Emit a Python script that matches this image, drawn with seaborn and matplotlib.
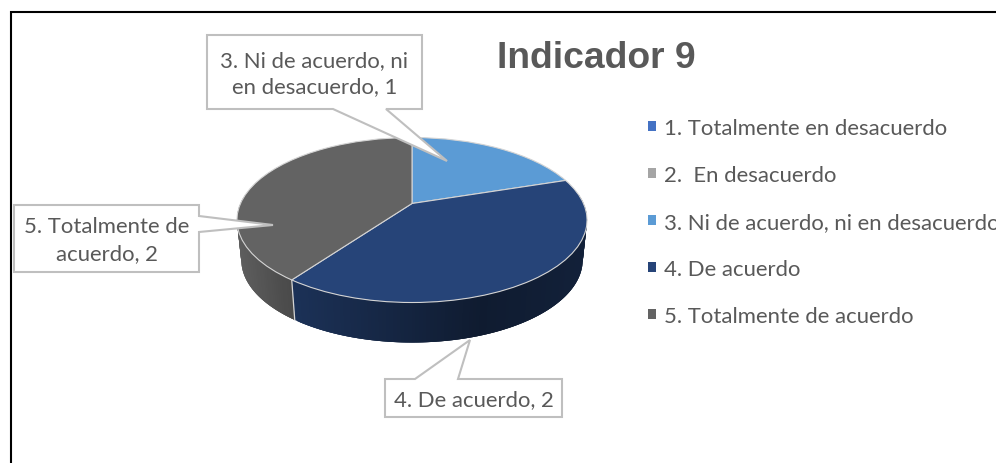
import textwrap
import numpy as np
import matplotlib
matplotlib.use("Agg")
import matplotlib.pyplot as plt
from matplotlib.patches import Patch, Polygon
from matplotlib.transforms import Transform
import seaborn as sns

categories = ["1. Totalmente en desacuerdo", "2.  En desacuerdo", "3. Ni de acuerdo, ni en desacuerdo",
              "4. De acuerdo", "5. Totalmente de acuerdo"]
values = [0, 0, 1, 2, 2]
slice_colors = ["#4472C4", "#A5A5A5", "#5B9BD5", "#264478", "#636363"]
chart_title = "Indicador 9"

# pie geometry in pixels, perspective keeps the apex above the ellipse centre
CX, APEX_Y = 412, 204.5
A, B, K = 171.5, 79.2, 0.2
DEPTH = 40
TEXT_COL = "#595959"
LINE_COL = "#BFBFBF"
FONT = 15.9

# callout box (x0, y0, x1, y1) and tail (start on box, tip, end on box)
callouts = {
    2: ((207, 36, 422, 110), [(386, 110), (447, 162), (333, 110)]),
    3: ((385, 380, 562, 418), [(415, 380), (470, 341), (458, 380)]),
    4: ((14, 206, 199, 273), [(199, 217), (273, 226), (199, 233)]),
}


class PieTilt(Transform):
    input_dims = 2
    output_dims = 2
    is_affine = False
    has_inverse = False

    def transform_non_affine(self, xy):
        xy = np.asarray(xy, dtype=float)
        d = 1 + K * xy[:, 1]
        return np.column_stack([CX + A * xy[:, 0] / d, APEX_Y - B * xy[:, 1] / d])


def side_shade(x):
    return np.interp(x, [237, 295, 480, 587], [0.95, 0.72, 0.40, 0.48])


sns.set_theme(style="white")
plt.rcParams["font.family"] = ["Lato", "DejaVu Sans"]
palette = sns.color_palette(slice_colors)

fig = plt.figure(figsize=(9.96, 4.64), dpi=100)
ax = fig.add_axes([0, 0, 1, 1])
wedges, _ = ax.pie(values, colors=palette, startangle=90, counterclock=False,
                   wedgeprops={"edgecolor": "#D4D4D4", "linewidth": 0.8, "zorder": 2})
ax.set_aspect("auto")
ax.set_xlim(0, 996)
ax.set_ylim(464, 0)
ax.axis("off")

tilt = PieTilt()
for w in wedges:
    w.set_transform(tilt + ax.transData)

# side wall of the disc, strips overlap the next one so no seams show
order = 0
for w, col, val in zip(wedges, palette, values):
    if val == 0:
        continue
    th = np.radians(np.arange(w.theta1, w.theta2, 1.0))
    th = np.append(th, np.radians(w.theta2))
    top = tilt.transform(np.column_stack([np.cos(th), np.sin(th)]))
    for i in range(len(th) - 1):
        if np.sin(th[i]) > 0.1 and np.sin(th[i + 1]) > 0.1:
            continue
        seg = top[i:i + 4]
        xs = list(seg[:, 0]) + list(CX + (seg[::-1, 0] - CX) * 0.975)
        ys = list(seg[:, 1]) + list(seg[::-1, 1] + DEPTH)
        c = np.array(col) * side_shade(top[i, 0])
        order += 1
        ax.fill(xs, ys, color=c, lw=0, zorder=1 + order * 1e-4)
    # light seam where two slices meet on the front of the wall
    if -0.99 < np.sin(th[0]) < -0.2:
        p0 = top[0]
        ax.plot([p0[0], CX + (p0[0] - CX) * 0.975], [p0[1], p0[1] + DEPTH],
                color="#D4D4D4", lw=0.9, zorder=1.5)

# frame of the pasted picture (left and top only)
ax.plot([11, 11, 996], [464, 13, 13], color="black", lw=1.5, solid_joinstyle="miter", zorder=5)

ax.text(596.5, 58.5, chart_title, family=["Liberation Sans"], weight="bold", fontsize=26.8,
        color=TEXT_COL, ha="center", va="center")

for idx, (box, tail) in callouts.items():
    x0, y0, x1, y1 = box
    if tail[0][1] == y1:
        pts = [(x0, y0), (x1, y0), (x1, y1)] + tail + [(x0, y1)]
    elif tail[0][1] == y0:
        pts = [(x0, y0)] + tail + [(x1, y0), (x1, y1), (x0, y1)]
    else:
        pts = [(x0, y0), (x1, y0)] + tail + [(x1, y1), (x0, y1)]
    ax.add_patch(Polygon(pts, closed=True, facecolor="white", edgecolor=LINE_COL, lw=1.5, zorder=3))
    txt = textwrap.fill(f"{categories[idx]}, {values[idx]}", width=20)
    ax.text((x0 + x1) / 2, (y0 + y1) / 2 + 1, txt, ha="center", va="center", fontsize=FONT,
            color=TEXT_COL, linespacing=1.4, zorder=4)

handles = [Patch(facecolor=c, edgecolor="none") for c in palette]
ax.legend(handles, categories, loc="upper left", bbox_to_anchor=(648, 119),
          bbox_transform=ax.transData, frameon=False, fontsize=FONT, labelcolor=TEXT_COL,
          handlelength=0.36, handleheight=0.36, handletextpad=0.38, labelspacing=1.22,
          borderpad=0, borderaxespad=0)

fig.savefig("out.png", dpi=100, facecolor="white")
